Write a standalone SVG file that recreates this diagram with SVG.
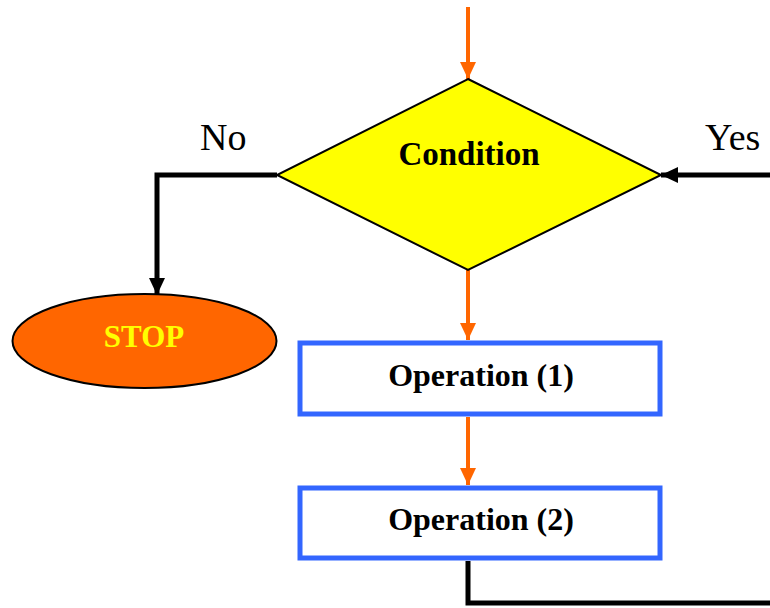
<svg xmlns="http://www.w3.org/2000/svg" width="770" height="608" viewBox="0 0 770 608">
<style>
.lbl{font-family:"Liberation Serif","Times New Roman",serif;fill:#000}
.b{font-weight:bold}
.or{stroke:#FF6600;stroke-width:4;fill:none}
.bk{stroke:#000;stroke-width:5;fill:none}
.box{fill:#fff;stroke:#3366FF;stroke-width:5}
</style>
<defs>
<marker id="ao" markerUnits="userSpaceOnUse" markerWidth="18" markerHeight="18" viewBox="0 0 18 18" refX="17" refY="9" orient="auto">
<path d="M0,1 L17,9 L0,17 Z" fill="#FF6600"/>
</marker>
<marker id="ab" markerUnits="userSpaceOnUse" markerWidth="18" markerHeight="18" viewBox="0 0 18 18" refX="17" refY="9" orient="auto">
<path d="M0,1 L17,9 L0,17 Z" fill="#000"/>
</marker>
</defs>
<g id="connectors">
<path class="or" d="M468,7 V79" marker-end="url(#ao)"/>
<path class="or" d="M468,270 V340" marker-end="url(#ao)"/>
<path class="or" d="M468,417 V485" marker-end="url(#ao)"/>
<path class="bk" d="M277,175 H157 V295" marker-end="url(#ab)"/>
<path class="bk" d="M770,175 H661" marker-end="url(#ab)"/>
<path class="bk" d="M468,561 V603 H770"/>
</g>
<g id="condition">
<polygon points="468,79 661,175 468,270 277,175" fill="#FFFF00" stroke="#000" stroke-width="2"/>
<text class="lbl b" x="469" y="165" font-size="33" text-anchor="middle">Condition</text>
</g>
<g id="label-no"><text class="lbl" x="200" y="150" font-size="38">No</text></g>
<g id="label-yes"><text class="lbl" x="705" y="150" font-size="38">Yes</text></g>
<g id="stop">
<ellipse cx="144.5" cy="341" rx="132" ry="47" fill="#FF6600" stroke="#000" stroke-width="2"/>
<text class="lbl b" x="144" y="347" font-size="31" text-anchor="middle" style="fill:#FFFF00">STOP</text>
</g>
<g id="op1">
<rect class="box" x="300" y="343" width="360" height="71"/>
<text class="lbl b" x="481" y="386" font-size="32" text-anchor="middle">Operation (1)</text>
</g>
<g id="op2">
<rect class="box" x="300" y="488" width="360" height="70"/>
<text class="lbl b" x="481" y="530" font-size="32" text-anchor="middle">Operation (2)</text>
</g>
</svg>
